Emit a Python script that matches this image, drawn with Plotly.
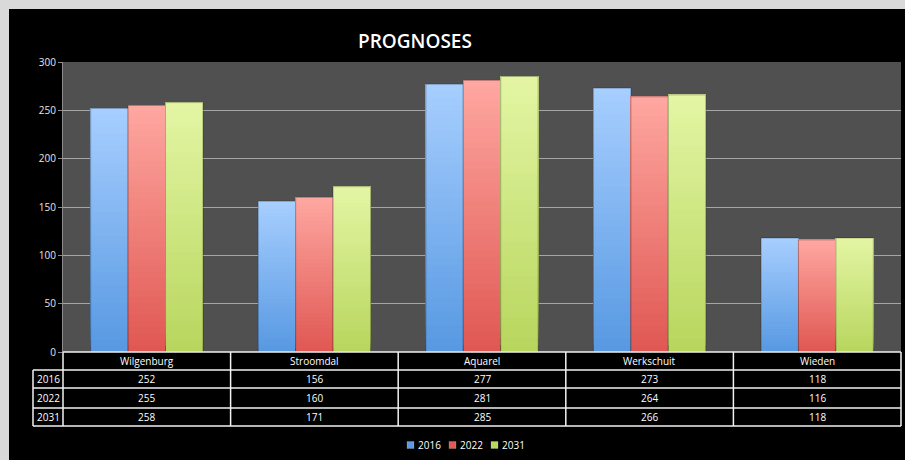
import plotly.graph_objects as go

# ---- data ----
locations = ["Wilgenburg", "Stroomdal", "Aquarel", "Werkschuit", "Wieden"]
years = ["2016", "2022", "2031"]
values_2016 = [252, 156, 277, 273, 118]
values_2022 = [255, 160, 281, 264, 116]
values_2031 = [258, 171, 285, 266, 118]
y_ticks = [0, 50, 100, 150, 200, 250, 300]
title_text = "PROGNOSES"

series = [values_2016, values_2022, values_2031]
# gradient end colours per series: (bottom, top)
bottom_colors = [(88, 153, 226), (224, 88, 83), (184, 214, 94)]
top_colors = [(168, 207, 255), (255, 168, 162), (228, 246, 165)]
legend_colors = ["#5a9be1", "#e15a55", "#b9d75f"]

W, H = 905, 460
ML, MR, MT, MB = 63, 4, 62, 108
PW, PH = W - ML - MR, H - MT - MB


def px_x(p):
    return (p - ML) / PW


def px_y(p):
    return (H - MB - p) / PH


def mix(c0, c1, t):
    return "rgb(%d,%d,%d)" % tuple(round(a + (b - a) * t) for a, b in zip(c0, c1))


FONT = "Open Sans"
fig = go.Figure()

# bars: stacked opaque slices, each a bit lighter, painted bottom to top
N_STEPS = 40
for name, vals, c_bot, c_top in zip(years, series, bottom_colors, top_colors):
    fig.add_trace(go.Bar(
        x=locations, y=vals, name=name, offsetgroup=name,
        marker=dict(color=mix(c_bot, c_top, 0), line=dict(width=0)),
        showlegend=False, hoverinfo="x+y",
    ))
    for k in range(1, N_STEPS):
        f = k / N_STEPS
        fig.add_trace(go.Bar(
            x=locations,
            base=[v * f for v in vals],
            y=[v * (1 - f) for v in vals],
            offsetgroup=name,
            marker=dict(color=mix(c_bot, c_top, f), line=dict(width=0)),
            showlegend=False, hoverinfo="skip",
        ))
    # thin outline on top of the gradient
    fig.add_trace(go.Bar(
        x=locations, y=vals, offsetgroup=name,
        marker=dict(color="rgba(0,0,0,0)", line=dict(color="rgba(0,0,0,0.28)", width=1)),
        showlegend=False, hoverinfo="skip",
    ))

shapes = []
# light grey frame along the top and left edges, grey plotting area
shapes.append(dict(type="rect", xref="paper", yref="paper", layer="below",
                   x0=px_x(-5), x1=px_x(W + 5), y0=px_y(9), y1=px_y(-5),
                   fillcolor="#d9d9d9", line=dict(width=0)))
shapes.append(dict(type="rect", xref="paper", yref="paper", layer="below",
                   x0=px_x(-5), x1=px_x(9), y0=px_y(H + 5), y1=px_y(-5),
                   fillcolor="#d9d9d9", line=dict(width=0)))
shapes.append(dict(type="rect", xref="paper", yref="paper", layer="below",
                   x0=0, x1=1, y0=0, y1=1,
                   fillcolor="#505050", line=dict(width=0)))

# data table underneath the plot
row_edges = [352, 370, 388, 408, 426]
col_edges = [ML + PW * i / len(locations) for i in range(len(locations) + 1)]
line_style = dict(color="#f2f2f2", width=1.5)
for i, yy in enumerate(row_edges):
    x0 = 33 if i >= 1 else ML
    shapes.append(dict(type="line", xref="paper", yref="paper",
                       x0=px_x(x0), x1=px_x(col_edges[-1]),
                       y0=px_y(yy), y1=px_y(yy), line=line_style))
for xx in col_edges:
    shapes.append(dict(type="line", xref="paper", yref="paper",
                       x0=px_x(xx), x1=px_x(xx),
                       y0=px_y(row_edges[0]), y1=px_y(row_edges[-1]), line=line_style))
shapes.append(dict(type="line", xref="paper", yref="paper",
                   x0=px_x(33), x1=px_x(33),
                   y0=px_y(row_edges[1]), y1=px_y(row_edges[-1]), line=line_style))

annotations = []
txt_font = dict(family=FONT, size=10, color="#ffffff")
for loc in locations:
    annotations.append(dict(x=loc, xref="x", yref="paper",
                            y=px_y((row_edges[0] + row_edges[1]) / 2),
                            text=loc, showarrow=False, font=txt_font,
                            xanchor="center", yanchor="middle"))
for r, (name, vals) in enumerate(zip(years, series)):
    yc = px_y((row_edges[r + 1] + row_edges[r + 2]) / 2)
    annotations.append(dict(x=px_x(48), xref="paper", yref="paper", y=yc,
                            text=name, showarrow=False, font=txt_font,
                            xanchor="center", yanchor="middle"))
    for loc, v in zip(locations, vals):
        annotations.append(dict(x=loc, xref="x", yref="paper", y=yc,
                                text=str(v), showarrow=False, font=txt_font,
                                xanchor="center", yanchor="middle"))

# legend
leg_y = 445
for i, (name, col) in enumerate(zip(years, legend_colors)):
    sx = 407 + i * 42
    shapes.append(dict(type="rect", xref="paper", yref="paper",
                       x0=px_x(sx), x1=px_x(sx + 7),
                       y0=px_y(leg_y + 3.5), y1=px_y(leg_y - 3.5),
                       fillcolor=col, line=dict(color="rgba(255,255,255,0.35)", width=0.5)))
    annotations.append(dict(x=px_x(sx + 9), xref="paper", yref="paper", y=px_y(leg_y),
                            text=name, showarrow=False, font=txt_font,
                            xanchor="left", yanchor="middle"))

# title
annotations.append(dict(x=px_x(415), xref="paper", yref="paper", y=px_y(41),
                        text=title_text, showarrow=False,
                        font=dict(family=FONT, size=19, color="#ffffff", weight=600),
                        xanchor="center", yanchor="middle"))

fig.update_layout(
    width=W, height=H,
    margin=dict(l=ML, r=MR, t=MT, b=MB, pad=0),
    paper_bgcolor="#000000",
    plot_bgcolor="rgba(0,0,0,0)",
    barmode="group", bargap=0.33, bargroupgap=0,
    showlegend=False,
    shapes=shapes, annotations=annotations,
    font=dict(family=FONT, size=10, color="#ffffff"),
    xaxis=dict(categoryorder="array", categoryarray=locations,
               showticklabels=False, showgrid=False, zeroline=False,
               showline=False, ticks=""),
    yaxis=dict(range=[0, 300], tickvals=y_ticks, showgrid=True,
               gridcolor="#a6a6a6", gridwidth=1, zeroline=False,
               showline=True, linecolor="#8c8c8c", linewidth=1,
               ticks="outside", ticklen=4, tickcolor="#8c8c8c",
               tickfont=dict(family=FONT, size=10, color="#e6e6e6")),
)

fig.write_html("out.html")
